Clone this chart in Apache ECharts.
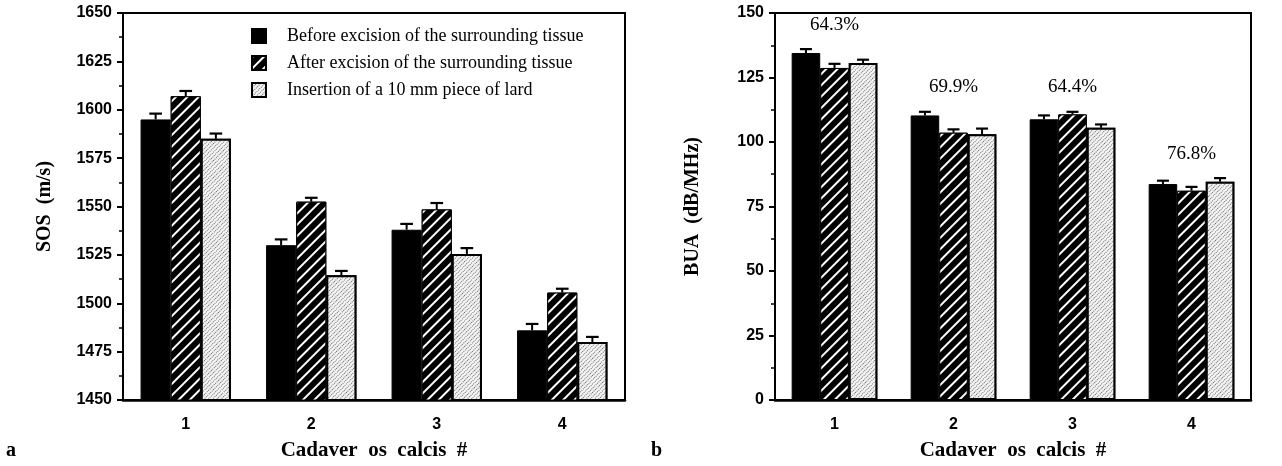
<!DOCTYPE html>
<html><head><meta charset="utf-8">
<script src="https://cdn.jsdelivr.net/npm/echarts@6/dist/echarts.min.js"></script>
<style>html,body{margin:0;padding:0;background:#fff}#c{width:1282px;height:466px}</style>
</head><body><div id="c"></div>
<script>
// ---- data ----
const categories = ['1', '2', '3', '4'];
const seriesNames = ['Before excision of the surrounding tissue', 'After excision of the surrounding tissue', 'Insertion of a 10 mm piece of lard'];
const sosBefore = [1595, 1530, 1538, 1486];
const sosAfter = [1607, 1552.5, 1548.5, 1505.5];
const sosLard = [1585, 1514.5, 1525.5, 1480];
const sosBeforeErr = [3, 3, 3, 3.3];
const sosAfterErr = [2.7, 2, 3.3, 2];
const sosLardErr = [2.7, 2.2, 3, 2.6];
const buaBefore = [134.5, 110.3, 108.8, 83.7];
const buaAfter = [128.7, 103.6, 110.7, 81.1];
const buaLard = [130.6, 103.0, 105.5, 84.6];
const buaBeforeErr = [1.5, 1.4, 1.5, 1.3];
const buaAfterErr = [1.6, 1.3, 1.0, 1.5];
const buaLardErr = [1.3, 2.2, 1.3, 1.4];
const buaPercent = ['64.3%', '69.9%', '64.4%', '76.8%'];
const sosTicks = {min: 1450, max: 1650, interval: 25};
const buaTicks = {min: 0, max: 150, interval: 25};

// ---- styles ----
const SERIF = '"Liberation Serif", "Times New Roman", serif';
const SANS = '"Liberation Sans", Arial, sans-serif';
const CAT_GAP = 0.28;
const styles = [
  {color: '#000', borderColor: '#000', borderWidth: 1},
  {color: '#000', borderColor: '#000', borderWidth: 1,
   decal: {symbol: 'rect', symbolSize: 1, color: '#fff', dashArrayX: [1, 0], dashArrayY: [1.3, 5.2], rotation: -Math.PI / 4}},
  {color: '#e6e6e6', borderColor: '#000', borderWidth: 2,
   decal: {symbol: 'rect', symbolSize: 1, color: '#666', backgroundColor: '#f4f4f4', dashArrayX: [1, 2], dashArrayY: [1, 1], rotation: Math.PI / 4}}
];

function barSeries(idx, data, axisIndex) {
  return {
    type: 'bar', name: seriesNames[idx], xAxisIndex: axisIndex, yAxisIndex: axisIndex,
    data: data, barGap: '0%', barCategoryGap: (CAT_GAP * 100) + '%',
    itemStyle: styles[idx], z: 2, animation: false
  };
}
function errSeries(idx, vals, errs, axisIndex) {
  return {
    type: 'custom', xAxisIndex: axisIndex, yAxisIndex: axisIndex, z: 3, animation: false,
    silent: true,
    data: vals.map((v, i) => [i, v, errs[i]]),
    renderItem: function (params, api) {
      const band = api.size([1, 0])[0];
      const total = band * (1 - CAT_GAP);
      const bw = total / 3;
      const off = -total / 2 + bw * (idx + 0.5);
      const p0 = api.coord([api.value(0), api.value(1)]);
      const p1 = api.coord([api.value(0), api.value(1) + api.value(2)]);
      const x = p0[0] + off;
      const cap = bw * 0.42;
      return {
        type: 'group', children: [
          {type: 'line', shape: {x1: x, y1: p0[1], x2: x, y2: p1[1]}, style: {stroke: '#000', lineWidth: 2}},
          {type: 'line', shape: {x1: x - cap / 2, y1: p1[1], x2: x + cap / 2, y2: p1[1]}, style: {stroke: '#000', lineWidth: 2.2}}
        ]
      };
    }
  };
}

// percent labels positioned above the highest error bar of each group
const buaLabelData = categories.map((c, i) => {
  const top = Math.max(buaBefore[i] + buaBeforeErr[i], buaAfter[i] + buaAfterErr[i], buaLard[i] + buaLardErr[i]);
  return [i, top + 9.5, buaPercent[i]];
});

function yAxis(grid, t, name, gap) {
  return {
    type: 'value', gridIndex: grid, min: t.min, max: t.max, interval: t.interval,
    name: name, nameLocation: 'middle', nameGap: gap,
    nameTextStyle: {fontFamily: SERIF, fontWeight: 'bold', fontSize: 20, color: '#000'},
    axisLine: {show: true, lineStyle: {color: '#000', width: 2}},
    axisTick: {show: true, length: 6, lineStyle: {color: '#000', width: 2}},
    minorTick: {show: true, splitNumber: 2, length: 4, lineStyle: {color: '#000', width: 1.5}},
    splitLine: {show: false},
    axisLabel: {fontFamily: SANS, fontWeight: 'bold', fontSize: 16, color: '#000', margin: 11,
      formatter: v => String(v)}
  };
}
function xAxis(grid) {
  return {
    type: 'category', gridIndex: grid, data: categories,
    name: 'Cadaver  os  calcis  #', nameLocation: 'middle', nameGap: 40,
    nameTextStyle: {fontFamily: SERIF, fontWeight: 'bold', fontSize: 21, color: '#000'},
    axisLine: {show: true, lineStyle: {color: '#000', width: 2.5}},
    axisTick: {show: false},
    axisLabel: {fontFamily: SANS, fontWeight: 'bold', fontSize: 16, color: '#000', margin: 17}
  };
}

const chart = echarts.init(document.getElementById('c'), null, {renderer: 'canvas'});
chart.setOption({
  animation: false,
  backgroundColor: '#fff',
  grid: [
    {left: 123, right: 657, top: 13, bottom: 66, show: true, borderColor: '#000', borderWidth: 2, backgroundColor: 'transparent'},
    {left: 775, right: 31, top: 13, bottom: 64, show: true, borderColor: '#000', borderWidth: 2, backgroundColor: 'transparent'}
  ],
  legend: {
    data: seriesNames, orient: 'vertical', left: 246, top: 22,
    itemWidth: 14, itemHeight: 14, itemGap: 9, icon: 'rect',
    textStyle: {fontFamily: SERIF, fontSize: 18, color: '#000', padding: [0, 0, 0, 16]},
    selectedMode: false
  },
  xAxis: [xAxis(0), xAxis(1)],
  yAxis: [yAxis(0, sosTicks, 'SOS  (m/s)', 68), yAxis(1, buaTicks, 'BUA  (dB/MHz)', 72)],
  series: [
    barSeries(0, sosBefore, 0), barSeries(1, sosAfter, 0), barSeries(2, sosLard, 0),
    errSeries(0, sosBefore, sosBeforeErr, 0), errSeries(1, sosAfter, sosAfterErr, 0), errSeries(2, sosLard, sosLardErr, 0),
    barSeries(0, buaBefore, 1), barSeries(1, buaAfter, 1), barSeries(2, buaLard, 1),
    errSeries(0, buaBefore, buaBeforeErr, 1), errSeries(1, buaAfter, buaAfterErr, 1), errSeries(2, buaLard, buaLardErr, 1),
    {
      type: 'scatter', xAxisIndex: 1, yAxisIndex: 1, symbolSize: 0, silent: true, z: 4,
      data: buaLabelData, itemStyle: {opacity: 1},
      label: {show: true, position: 'inside', formatter: p => p.value[2],
        fontFamily: SERIF, fontSize: 19, color: '#000', opacity: 1, textBorderWidth: 0}
    }
  ],
  graphic: [
    {type: 'text', left: 6, top: 441, style: {text: 'a', font: 'bold 20px ' + SERIF, fill: '#000'}},
    {type: 'text', left: 651, top: 441, style: {text: 'b', font: 'bold 20px ' + SERIF, fill: '#000'}}
  ]
});
</script></body></html>
